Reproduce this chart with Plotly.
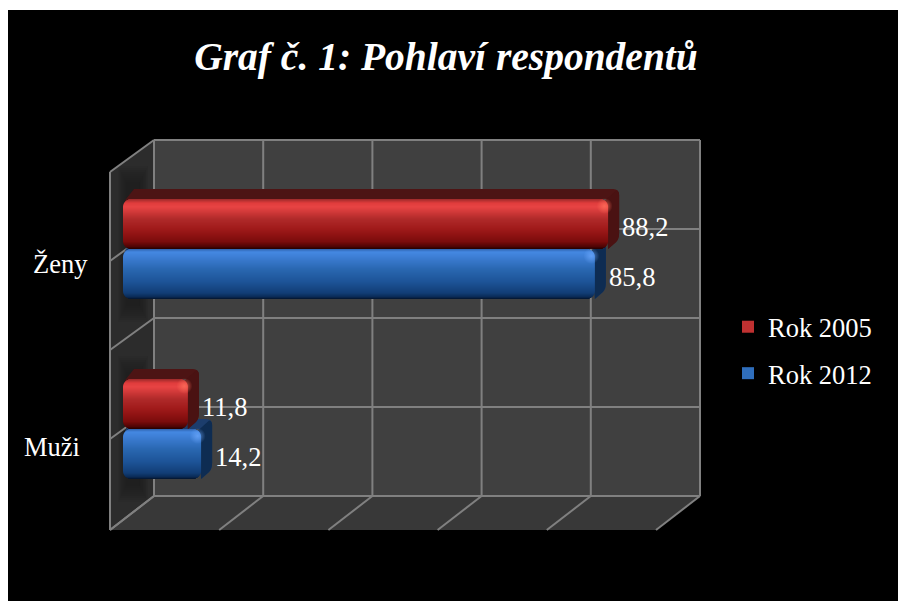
import plotly.graph_objects as go
import math

W, H = 898, 601
categories = ["Muži", "Ženy"]
ypos = [0, 1]
series_names = ["Rok 2005", "Rok 2012"]
rok_2005 = [11.8, 88.2]
rok_2012 = [14.2, 85.8]
grid_vals = [0, 20, 40, 60, 80, 100]
title_text = "Graf č. 1: Pohlaví respondentů"
FONT = "Liberation Serif"

# pixel geometry of the pseudo-3D frame
X0, PXU = 123, 5.5          # front plane: value 0 and px per value
Y_TOP, Y_BOT = 159, 519
PXY = (Y_BOT - Y_TOP) / 2
BW = 50 / PXY               # bar thickness in y units
DX, DY = 11 / PXU, 10 / PXY
R = 8

def px(x): return x / W
def py(y): return 1 - y / H
def hexrgb(h): return tuple(int(h[i:i+2], 16) for i in (1, 3, 5))
def ramp(stops, t):
    for (t0, c0), (t1, c1) in zip(stops, stops[1:]):
        if t <= t1:
            f = (t - t0) / (t1 - t0)
            a, b = hexrgb(c0), hexrgb(c1)
            return "rgb(%d,%d,%d)" % tuple(a[i] + (b[i] - a[i]) * f for i in range(3))
    return stops[-1][1]

RED = [(0, "#9c2a2a"), (.08, "#e03c3c"), (.16, "#e84444"), (.4, "#b02a2a"), (.6, "#a01a1a"),
       (.85, "#7c0c0c"), (.95, "#500404"), (1, "#250000")]
BLUE = [(0, "#2f62ac"), (.06, "#4488e2"), (.14, "#3f80d8"), (.4, "#2a68b2"), (.65, "#1d5498"),
        (.88, "#123e76"), (.96, "#0a2a55"), (1, "#04142c")]
style = [
    dict(name=series_names[0], vals=rok_2005, off=0, ramp=RED,
         top="#4d1414", side="#4a1212", hi="rgba(255,110,90,0.8)", hi0="rgba(255,110,90,0)"),
    dict(name=series_names[1], vals=rok_2012, off=-BW, ramp=BLUE,
         top="#1c3d6c", side="#0e2c52", hi="rgba(110,170,255,0.7)", hi0="rgba(110,170,255,0)"),
]

shapes = []
def poly(points, fill, line=None, lw=0):
    d = "M" + "L".join(f"{px(a):.5f},{py(b):.5f}" for a, b in points) + "Z"
    shapes.append(dict(type="path", path=d, xref="paper", yref="paper", fillcolor=fill,
                       line=dict(color=line or fill, width=lw), layer="below"))
def seg(a, b, c="#808080", w=2):
    shapes.append(dict(type="line", xref="paper", yref="paper", x0=px(a[0]), y0=py(a[1]),
                       x1=px(b[0]), y1=py(b[1]), line=dict(color=c, width=w), layer="below"))

# page background: black sheet with white top and left strip
poly([(8, 10), (W, 10), (W, H), (8, H)], "#000000")
# walls
BX0, BX1, BY0, BY1 = 154, 700, 140, 496
FX, FY = 44, 34
poly([(BX0, BY0), (BX1, BY0), (BX1, BY1), (BX0, BY1)], "#404040")
poly([(BX0, BY1), (BX1, BY1), (BX1 - FX, BY1 + FY), (BX0 - FX, BY1 + FY)], "#383838")
poly([(BX0 - FX, BY0 + 32), (BX0, BY0), (BX0, BY1), (BX0 - FX, BY1 + FY)], "#2c2c2c")
# soft shadow of the bars on the side wall
for grow in range(16, -1, -2):
    for top, bot in [(182, 306), (372, 486)]:
        poly([(126 - grow / 2, top - grow), (140 + grow / 2, top - grow),
              (140 + grow / 2, bot + grow), (126 - grow / 2, bot + grow)], "rgba(10,10,10,0.055)")
# grid on the walls
hlines = [140, 229, 318, 407, 496]
for yy in hlines:
    seg((BX0, yy), (BX1, yy))
    seg((BX0, yy), (BX0 - FX, yy + 32 if yy < 496 else yy + FY))
for v in grid_vals:
    xx = BX0 + (BX1 - BX0) * v / 100
    seg((xx, BY0), (xx, BY1))
    seg((xx, BY1), (xx - FX, BY1 + FY))
seg((BX0 - FX, BY0 + 32), (BX0 - FX, BY1 + FY))

# depth faces, drawn from the data values, behind the front faces
def depth_faces(s):
    for y, v in zip(ypos, s["vals"]):
        top = y + s["off"] + BW
        bot = y + s["off"]
        rx, ry = 6 / PXU, 6 / PXY
        shapes.append(dict(type="path", xref="x", yref="y", layer="below",
            path=f"M{0.3},{top-0.01} L{DX},{top+DY} L{v+DX-rx},{top+DY} Q{v+DX},{top+DY} {v+DX},{top+DY-ry} "
                 f"L{v+DX},{bot+DY+ry} Q{v+DX},{bot+DY} {v+DX-rx/2},{bot+DY-ry/2} L{v},{bot} L{v},{top} Z",
            fillcolor=s["top"], line=dict(width=0)))
        shapes.append(dict(type="path", xref="x", yref="y", layer="below",
            path=f"M{v-rx/2},{top-ry/4} L{v+DX-rx/2},{top+DY-ry/4} Q{v+DX},{top+DY-ry/4} {v+DX},{top+DY-ry} "
                 f"L{v+DX},{bot+DY+ry} Q{v+DX},{bot+DY} {v+DX-rx/2},{bot+DY-ry/2} L{v},{bot} Z",
            fillcolor=s["side"], line=dict(width=0)))
for s in reversed(style):
    depth_faces(s)

fig = go.Figure()
STEP = 1
N = 50
for s in style:
    # front face: a vertical sheen made of thin bars of the same values
    for i in range(N):
        d0 = i * STEP
        edge = min(d0, N * STEP - d0 - STEP)
        inset = 0 if edge >= R else (R - math.sqrt(max(R * R - (R - edge - .5) ** 2, 0))) / PXU
        legend_band = (i == N // 3)
        fig.add_trace(go.Bar(y=ypos, x=[v - 2 * inset for v in s["vals"]], base=[inset] * 2, orientation="h",
                             width=STEP / PXY, offset=s["off"] + BW - (d0 + STEP) / PXY,
                             marker=dict(color=ramp(s["ramp"], (i + .5) / N), line=dict(width=0)),
                             name=s["name"], legendgroup=s["name"], showlegend=legend_band,
                             hovertext=categories, hoverinfo="text+x" if legend_band else "skip"))
    # corner highlight
    fig.add_trace(go.Scatter(x=[v - 3.5 / PXU for v in s["vals"]], y=[y + s["off"] + BW - 7 / PXY for y in ypos],
                             mode="markers", showlegend=False, hoverinfo="skip",
                             marker=dict(size=16, color=s["hi0"], line=dict(width=0),
                                         gradient=dict(type="radial", color=s["hi"]))))

annotations = []
for s in style:
    for y, v in zip(ypos, s["vals"]):
        annotations.append(dict(x=v, y=y + s["off"] + BW / 2, xref="x", yref="y", xanchor="left", yanchor="middle",
                                xshift=12, yshift=-3, showarrow=False, text=f"{v}".replace(".", ","),
                                font=dict(family=FONT, size=26.5, color="#ffffff")))
cat_pos = {"Ženy": (90, 264), "Muži": (82, 447)}
for c in categories:
    a, b = cat_pos[c]
    annotations.append(dict(x=px(a), y=py(b), xref="paper", yref="paper", xanchor="right", yanchor="middle",
                            showarrow=False, text=c, font=dict(family=FONT, size=26.5, color="#ffffff")))

fig.update_layout(
    width=W, height=H, margin=dict(l=0, r=0, t=0, b=0), autosize=False,
    paper_bgcolor="#ffffff", plot_bgcolor="rgba(0,0,0,0)", barmode="overlay",
    title=dict(text=f"<b><i>{title_text}</i></b>", x=446 / W, xanchor="center", y=py(56), yanchor="middle",
               font=dict(family=FONT, size=39.5, color="#ffffff")),
    xaxis=dict(range=[0, 100], domain=[px(X0), px(X0 + 100 * PXU)], visible=False, fixedrange=True),
    yaxis=dict(range=[-0.5, 1.5], domain=[py(Y_BOT), py(Y_TOP)], visible=False, fixedrange=True),
    legend=dict(x=px(728), y=py(303), xanchor="left", yanchor="top", bgcolor="rgba(0,0,0,0)",
                font=dict(family=FONT, size=26.5, color="#ffffff"), tracegroupgap=9, traceorder="grouped"),
    shapes=shapes, annotations=annotations,
)
fig.write_html("out.html", config=dict(displayModeBar=False),
               post_script="document.body.style.margin='0';")
